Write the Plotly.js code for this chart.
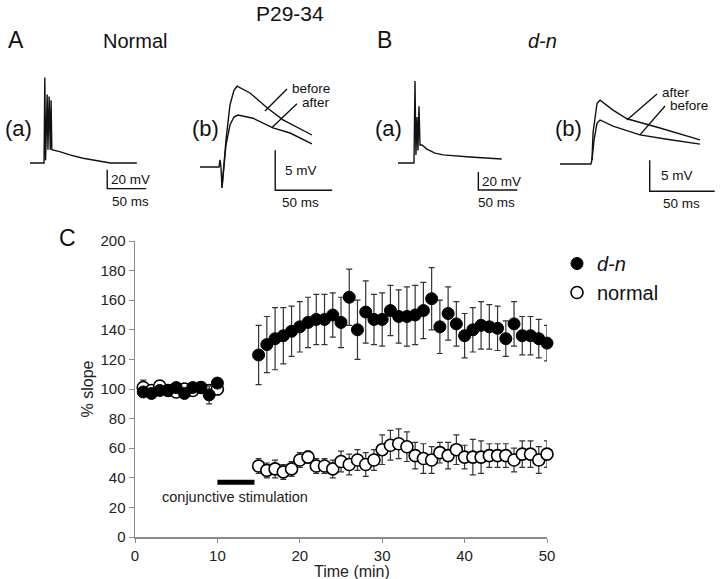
<!DOCTYPE html>
<html>
<head>
<meta charset="utf-8">
<script src="https://cdn.plot.ly/plotly-3.0.1.min.js"></script>
<style>
  html, body { margin: 0; padding: 0; background: #fff; }
  #chart { width: 720px; height: 579px; }
</style>
</head>
<body>
<div id="chart"></div>
<script>
// ---- panel C data (% slope vs time) ----
const timePre = [1, 2, 3, 4, 5, 6, 7, 8, 9, 10];
const dnPre = [98, 97, 99, 99, 101, 97, 101, 101, 96, 104];
const dnPreErr = [3, 3, 2, 2, 2, 2, 2, 2, 6, 3];
const normalPre = [101, 99, 102, 99, 98, 100, 99, 101, 99, 100];
const normalPreErr = [5, 3, 3, 3, 3, 3, 3, 3, 3, 4];

const timePost = [15, 16, 17, 18, 19, 20, 21, 22, 23, 24,
                  25, 26, 27, 28, 29, 30, 31, 32, 33, 34,
                  35, 36, 37, 38, 39, 40, 41, 42, 43, 44,
                  45, 46, 47, 48, 49, 50];
const dnPost = [123, 130, 134, 136, 139, 142, 145, 147, 147, 150,
                145, 162, 140, 152, 147, 147, 153, 149, 149, 150,
                153, 161, 142, 151, 144, 136, 140, 143, 142, 141,
                134, 144, 136, 136, 134, 131];
const dnPostErr = [20, 19, 21, 19, 17, 17, 17, 17, 17, 15,
                   17, 19, 20, 21, 17, 18, 17, 18, 20, 20,
                   19, 21, 18, 18, 15, 15, 15, 16, 15, 15,
                   12, 15, 13, 13, 13, 12];
const normalPost = [48, 45, 46, 44, 46, 52, 54, 48, 48, 46,
                    51, 49, 52, 49, 52, 59, 62, 63, 61, 55,
                    53, 52, 57, 55, 59, 54, 54, 54, 55, 55,
                    55, 52, 56, 56, 52, 56];
const normalPostErr = [5, 5, 6, 5, 5, 5, 4, 5, 5, 6,
                       7, 7, 7, 8, 7, 10, 10, 10, 10, 9,
                       10, 9, 7, 9, 10, 8, 12, 11, 8, 8,
                       8, 8, 9, 9, 9, 9];

const stimWindow = [10, 14.5];   // min
const stimLevel = 37;            // % slope, where the bar sits
const yTicks = [0, 20, 40, 60, 80, 100, 120, 140, 160, 180, 200];
const xTicks = [0, 10, 20, 30, 40, 50];

// ---- example traces (ms, mV relative to baseline) ----
const normSpikeT = [0, 18, 19, 20, 22, 23, 24.5, 26, 27, 28, 38, 51, 68, 90, 103, 137];
const normSpikeV = [0, 0, 90, 3, 72, 14, 70, 14, 66, 14, 12, 8.5, 5, 2, 0, 0];

const normBeforeT = [0, 16.7, 17.5, 18.4, 19.3, 22.8, 26.3, 29.8, 32.5, 43.9, 58.8, 72.8, 98.2];
const normBeforeV = [0, 0, 0.9, 0, -2.6, 3.4, 7.75, 9.6, 10.1, 9.25, 7.4, 5.9, 4];
const normAfterT = [19.3, 22.8, 26.3, 29.8, 33.3, 46.5, 64, 79, 98.2];
const normAfterV = [-2.6, 2.75, 5.25, 6.25, 6.5, 6.1, 4.9, 4.25, 2.9];

const dnSpikeT = [0, 20.5, 21.8, 23, 24.4, 25.6, 26.9, 28.2, 30.8, 37, 47.4, 57.7, 92.3, 133];
const dnSpikeV = [0, 0, 91, 9, 51, 14, 63, 20, 20, 15.5, 11, 9, 6.7, 4.4];

const dnAfterT = [0, 23.8, 24.6, 25.4, 28.5, 30.8, 40.8, 51.5, 76.9, 107.7];
const dnAfterV = [0, 0, 0.65, 5, 9.8, 10.3, 8.7, 7.3, 5.8, 3.9];
const dnBeforeT = [24.6, 26.2, 28.5, 30.8, 40.8, 61.5, 82.3, 107.7];
const dnBeforeV = [0.65, 3.9, 6.6, 7.1, 6.1, 4.7, 4.0, 3.2];

// scale bars: corner ms, top mV, bar sizes
const scaleAa = { t: 99, top: -7, mv: 20, ms: 50 };
const scaleAb = { t: 66, top: 2.1, mv: 5, ms: 50 };
const scaleBa = { t: 103, top: -10, mv: 20, ms: 50 };
const scaleBb = { t: 69, top: 0.6, mv: 5, ms: 50 };

// leader lines for before/after labels
const leadAbBefore = { t: [76.3, 57], v: [9.75, 7] };
const leadAbAfter = { t: [85, 63], v: [7.9, 4.9] };
const leadBbAfter = { t: [74.6, 51.5], v: [11.3, 7.1] };
const leadBbBefore = { t: [80.8, 61.5], v: [9.35, 4.7] };

// ---- layout helpers ----
const W = 720, H = 579;
const FONT = 'Liberation Sans, Arial, sans-serif';
const px = x => x / W;
const py = y => 1 - y / H;

// box in page px [left, right, top, bottom], origin px of (0 ms, 0 mV)
function panelAxes(box, origin, pxPerMs, pxPerMv) {
  const hidden = { visible: false, fixedrange: true, showgrid: false, zeroline: false };
  return {
    x: Object.assign({}, hidden, {
      domain: [px(box[0]), px(box[1])],
      range: [(box[0] - origin[0]) / pxPerMs, (box[1] - origin[0]) / pxPerMs]
    }),
    y: Object.assign({}, hidden, {
      domain: [py(box[3]), py(box[2])],
      range: [(origin[1] - box[3]) / pxPerMv, (origin[1] - box[2]) / pxPerMv]
    })
  };
}

const pAa = panelAxes([20, 165, 65, 205], [30, 163], 0.78, 0.95);
const pAb = panelAxes([195, 345, 70, 210], [200, 167], 1.14, 8);
const pBa = panelAxes([393, 535, 65, 205], [398, 163], 0.78, 0.9);
const pBb = panelAxes([555, 720, 75, 210], [560, 164], 1.3, 6.2);

const lineStyle = { color: '#111', width: 1.4 };

function tr(x, y, ax) {
  return { x: x, y: y, xaxis: 'x' + ax, yaxis: 'y' + ax, type: 'scatter', mode: 'lines',
           line: lineStyle, showlegend: false, hoverinfo: 'skip' };
}
function scaleTrace(s, ax) {
  return tr([s.t, s.t, s.t + s.ms], [s.top, s.top - s.mv, s.top - s.mv], ax);
}
function scaleLabels(s, ax, mvShift, msShift) {
  const common = { xref: 'x' + ax, yref: 'y' + ax, showarrow: false,
                   font: { family: FONT, size: 13.5, color: '#111' } };
  return [
    Object.assign({}, common, { x: s.t, y: s.top - s.mv / 2, text: s.mv + ' mV',
                               xanchor: 'left', yanchor: 'middle', xshift: mvShift }),
    Object.assign({}, common, { x: s.t + s.ms / 2, y: s.top - s.mv, text: s.ms + ' ms',
                               xanchor: 'center', yanchor: 'top', xshift: msShift, yshift: -3 })
  ];
}
function leadLabel(lead, ax, text) {
  return { xref: 'x' + ax, yref: 'y' + ax, x: lead.t[0], y: lead.v[0], text: text,
           showarrow: false, xanchor: 'left', yanchor: 'middle', xshift: 3, yshift: 1,
           font: { family: FONT, size: 13.5, color: '#111' } };
}
function pageText(x, y, text, size, color) {
  return { xref: 'paper', yref: 'paper', x: px(x), y: py(y), text: text,
           showarrow: false, xanchor: 'center', yanchor: 'middle',
           font: { family: FONT, size: size, color: color || '#111' } };
}

const errStyle = { type: 'data', visible: true, color: '#333', thickness: 1.2, width: 3 };

const data = [
  // panel C: normal first so the filled markers sit on top
  { x: timePre.concat(timePost), y: normalPre.concat(normalPost), name: 'normal',
    type: 'scatter', mode: 'markers',
    marker: { symbol: 'circle', size: 12, color: '#fff', line: { color: '#000', width: 1.6 } },
    error_y: Object.assign({ array: normalPreErr.concat(normalPostErr) }, errStyle),
    cliponaxis: false },
  { x: timePre.concat(timePost), y: dnPre.concat(dnPost), name: '<i>d-n</i>',
    type: 'scatter', mode: 'markers',
    marker: { symbol: 'circle', size: 12, color: '#000', line: { color: '#000', width: 1 } },
    error_y: Object.assign({ array: dnPreErr.concat(dnPostErr) }, errStyle),
    cliponaxis: false },
  // example traces
  tr(normSpikeT, normSpikeV, 2), scaleTrace(scaleAa, 2),
  tr(normBeforeT, normBeforeV, 3), tr(normAfterT, normAfterV, 3), scaleTrace(scaleAb, 3),
  tr(leadAbBefore.t, leadAbBefore.v, 3), tr(leadAbAfter.t, leadAbAfter.v, 3),
  tr(dnSpikeT, dnSpikeV, 4), scaleTrace(scaleBa, 4),
  tr(dnAfterT, dnAfterV, 5), tr(dnBeforeT, dnBeforeV, 5), scaleTrace(scaleBb, 5),
  tr(leadBbAfter.t, leadBbAfter.v, 5), tr(leadBbBefore.t, leadBbBefore.v, 5)
];

const axisGrey = '#8a8a8a';
const layout = {
  width: W, height: H,
  margin: { l: 0, r: 0, t: 0, b: 0, pad: 0 },
  paper_bgcolor: '#fff', plot_bgcolor: '#fff',
  font: { family: FONT, size: 15, color: '#222' },
  showlegend: true,
  legend: { x: px(557), y: py(244), xanchor: 'left', yanchor: 'top',
            traceorder: 'reversed', font: { family: FONT, size: 20, color: '#111' },
            bgcolor: 'rgba(0,0,0,0)', itemclick: false },
  xaxis: { domain: [px(135), px(547)], range: [0, 50], tickvals: xTicks,
           showline: true, linecolor: axisGrey, linewidth: 1.5, ticks: 'outside',
           ticklen: 4, tickcolor: axisGrey, showgrid: false, zeroline: false,
           tickfont: { size: 15 }, anchor: 'y' },
  yaxis: { domain: [py(537), py(241)], range: [0, 200], tickvals: yTicks,
           showline: true, linecolor: axisGrey, linewidth: 1.5, ticks: 'outside',
           ticklen: 5, tickcolor: axisGrey, showgrid: false, zeroline: false,
           tickfont: { size: 15 }, anchor: 'x',
           title: { text: '% slope', font: { size: 16 }, standoff: 3 } },
  xaxis2: Object.assign(pAa.x, { anchor: 'y2' }), yaxis2: Object.assign(pAa.y, { anchor: 'x2' }),
  xaxis3: Object.assign(pAb.x, { anchor: 'y3' }), yaxis3: Object.assign(pAb.y, { anchor: 'x3' }),
  xaxis4: Object.assign(pBa.x, { anchor: 'y4' }), yaxis4: Object.assign(pBa.y, { anchor: 'x4' }),
  xaxis5: Object.assign(pBb.x, { anchor: 'y5' }), yaxis5: Object.assign(pBb.y, { anchor: 'x5' }),
  shapes: [
    { type: 'line', xref: 'x', yref: 'y', x0: stimWindow[0], x1: stimWindow[1],
      y0: stimLevel, y1: stimLevel, line: { color: '#000', width: 5 } }
  ],
  annotations: [
    pageText(290, 13, 'P29-34', 21),
    pageText(16, 40, 'A', 23),
    pageText(135, 41, 'Normal', 20),
    pageText(384, 40, 'B', 23),
    pageText(542, 41, '<i>d-n</i>', 20),
    pageText(67, 238, 'C', 23),
    pageText(18, 128, '(a)', 22),
    pageText(205, 128, '(b)', 22),
    pageText(388, 128, '(a)', 22),
    pageText(568, 128, '(b)', 22),
    // x-axis title sits a little right of the axis centre in the original
    pageText(352, 571, 'Time (min)', 16, '#222'),
    { xref: 'x', yref: 'y', x: (stimWindow[0] + stimWindow[1]) / 2 - 0.1, y: stimLevel - 10,
      text: 'conjunctive stimulation', showarrow: false,
      font: { family: FONT, size: 14.5, color: '#222' } },
    leadLabel(leadAbBefore, 3, 'before'), leadLabel(leadAbAfter, 3, 'after'),
    leadLabel(leadBbAfter, 5, 'after'), leadLabel(leadBbBefore, 5, 'before')
  ].concat(scaleLabels(scaleAa, 2, 2, 4), scaleLabels(scaleAb, 3, 8, -3),
           scaleLabels(scaleBa, 4, 2, -1), scaleLabels(scaleBb, 5, 9, -1))
};

Plotly.newPlot('chart', data, layout, { staticPlot: true, displayModeBar: false });
</script>
</body>
</html>
